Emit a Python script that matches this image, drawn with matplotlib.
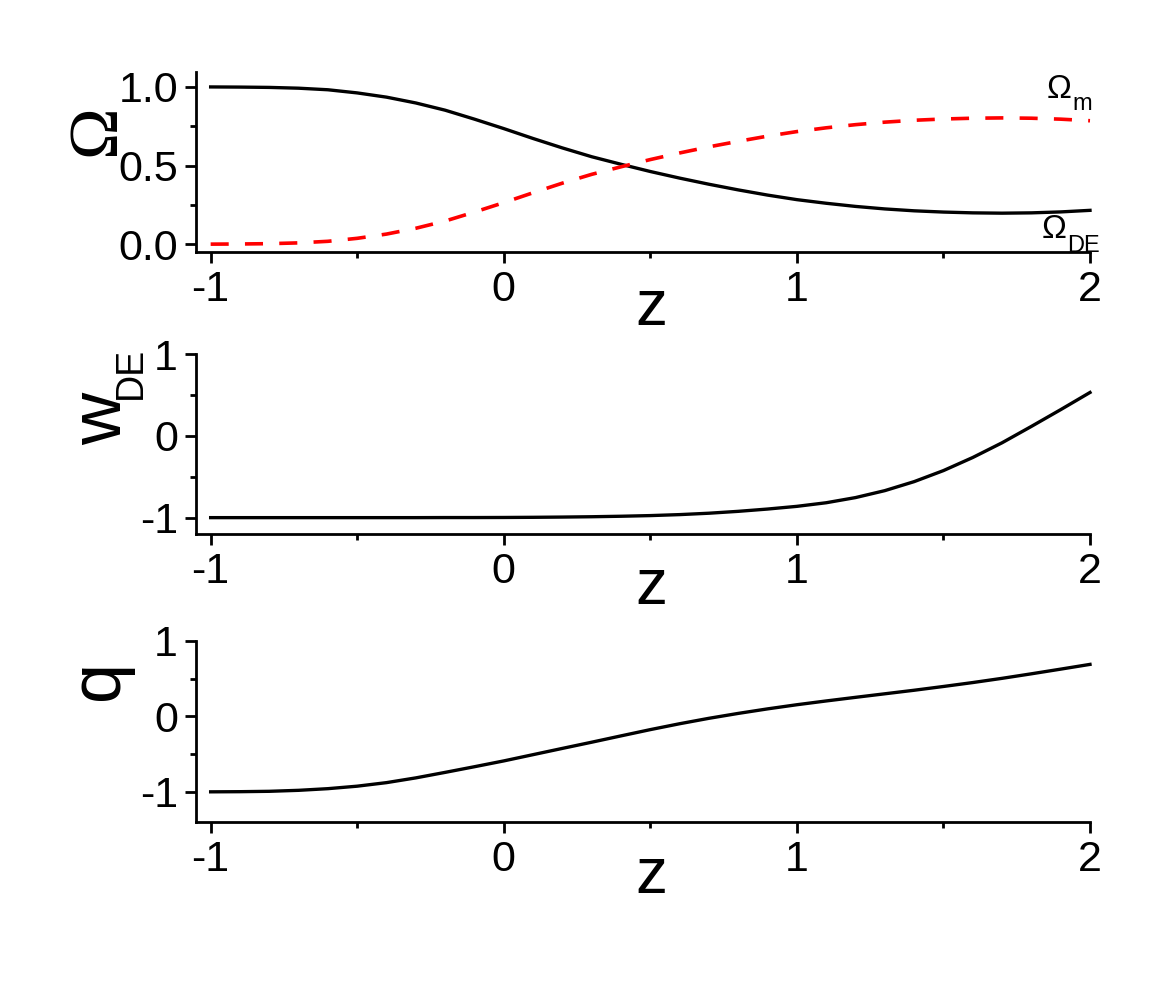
import matplotlib
matplotlib.use('Agg')
import matplotlib.pyplot as plt
from matplotlib.ticker import MultipleLocator

plt.rcParams['font.family'] = ['Liberation Sans', 'DejaVu Sans']
plt.rcParams['axes.unicode_minus'] = False

# redshift grid the curves were read at
z = [-1.0, -0.9, -0.8, -0.7, -0.6, -0.5, -0.4, -0.3, -0.2, -0.1, 0.0,
     0.1, 0.2, 0.3, 0.4, 0.5, 0.6, 0.7, 0.8, 0.9, 1.0,
     1.1, 1.2, 1.3, 1.4, 1.5, 1.6, 1.7, 1.8, 1.9, 2.0]

omega_de = [1.000, 0.999, 0.997, 0.992, 0.982, 0.962, 0.935, 0.898, 0.852, 0.795, 0.735,
            0.672, 0.612, 0.556, 0.508, 0.462, 0.420, 0.381, 0.345, 0.312, 0.283,
            0.260, 0.240, 0.224, 0.212, 0.204, 0.199, 0.197, 0.199, 0.205, 0.215]

omega_m = [0.000, 0.001, 0.003, 0.008, 0.018, 0.037, 0.064, 0.101, 0.147, 0.204, 0.264,
           0.327, 0.388, 0.444, 0.492, 0.538, 0.580, 0.619, 0.654, 0.687, 0.716,
           0.740, 0.760, 0.776, 0.788, 0.796, 0.801, 0.803, 0.801, 0.795, 0.785]

w_de = [-1.000, -1.000, -1.000, -1.000, -1.000, -1.000, -1.000, -1.000, -0.999, -0.999, -0.998,
        -0.996, -0.993, -0.989, -0.983, -0.975, -0.963, -0.946, -0.923, -0.895, -0.862,
        -0.818, -0.755, -0.670, -0.560, -0.425, -0.265, -0.085, 0.115, 0.320, 0.530]

q = [-1.000, -0.998, -0.993, -0.980, -0.958, -0.925, -0.878, -0.815, -0.742, -0.667, -0.590,
     -0.507, -0.424, -0.342, -0.258, -0.175, -0.097, -0.025, 0.040, 0.100, 0.155,
     0.205, 0.253, 0.300, 0.347, 0.397, 0.449, 0.505, 0.565, 0.627, 0.690]

W, H = 1173, 990
fig = plt.figure(figsize=(W / 100, H / 100), dpi=100)


def px_rect(left, top, right, bottom):
    return [left / W, 1 - bottom / H, (right - left) / W, (bottom - top) / H]


def style(ax, ylim, ymajor, yminor, yfmt=None):
    ax.set_xlim(-1.05, 2.0)
    ax.set_ylim(*ylim)
    for s in ['top', 'right']:
        ax.spines[s].set_visible(False)
    for s in ['left', 'bottom']:
        ax.spines[s].set_linewidth(2.0)
    ax.xaxis.set_major_locator(MultipleLocator(1))
    ax.xaxis.set_minor_locator(MultipleLocator(0.5))
    ax.yaxis.set_major_locator(MultipleLocator(ymajor))
    ax.yaxis.set_minor_locator(MultipleLocator(yminor))
    ax.tick_params(which='major', direction='out', length=8, width=2.0, labelsize=31, pad=5)
    ax.tick_params(which='minor', direction='out', length=4.5, width=2.0)
    if yfmt:
        ax.yaxis.set_major_formatter(yfmt)


# Omega panel
ax1 = fig.add_axes(px_rect(196, 72, 1090, 252))
ax1.plot(z, omega_de, color='black', lw=2.4, clip_on=False)
ax1.plot(z, omega_m, color='red', lw=2.6, dashes=(5.0, 4.5), clip_on=False)
style(ax1, (-0.05, 1.095), 0.5, 0.25, '{x:.1f}')

# w_DE panel
ax2 = fig.add_axes(px_rect(196, 354, 1090, 534))
ax2.plot(z, w_de, color='black', lw=2.4, clip_on=False)
style(ax2, (-1.2, 1.0), 1, 0.5, '{x:.0f}')

# q panel
ax3 = fig.add_axes(px_rect(196, 641, 1090, 822))
ax3.plot(z, q, color='black', lw=2.4, clip_on=False)
style(ax3, (-1.4, 1.0), 1, 0.5, '{x:.0f}')


def ftext(x, y, s, **kw):
    fig.text(x / W, 1 - y / H, s, **kw)


rot = dict(rotation=90, rotation_mode='anchor', ha='center', va='baseline')
ftext(114, 130, 'Ω', size=50, family=['Liberation Serif', 'DejaVu Serif'], **rot)
ftext(121, 419, 'w', size=52, **rot)
ftext(141, 373, 'DE', size=27, **rot)
ftext(118, 680, 'q', size=52, **rot)

for yb in [325, 604, 893]:
    ftext(651, yb, 'z', size=46, ha='center', va='baseline')

ftext(1047, 98, 'Ω', size=24, ha='left', va='baseline')
ftext(1072, 110, 'm', size=17, ha='left', va='baseline')
ftext(1042, 238, 'Ω', size=24, ha='left', va='baseline')
ftext(1067, 252, 'DE', size=17, ha='left', va='baseline')

fig.savefig('out.png', dpi=100)
